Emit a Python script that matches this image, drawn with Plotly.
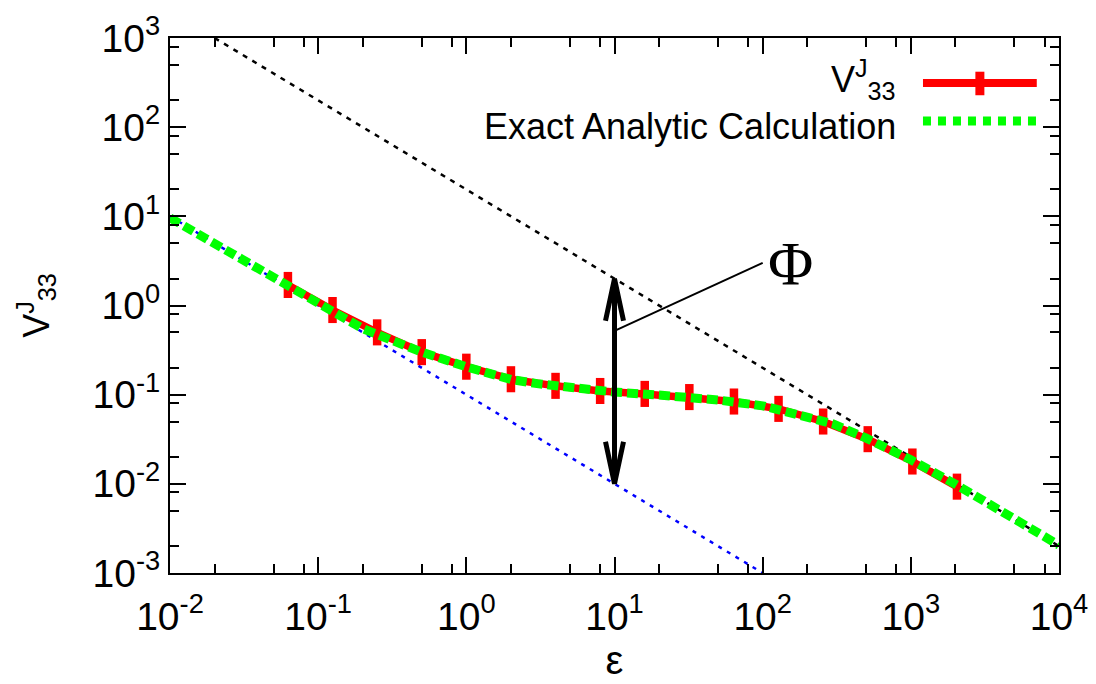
import plotly.graph_objects as go

# Simulation: V^J_33 sampled at powers of two in epsilon
eps_sim = [0.0625, 0.125, 0.25, 0.5, 1, 2, 4, 8, 16, 32, 64, 128, 256, 512, 1024, 2048]
v_sim = [1.70, 0.89, 0.50, 0.30, 0.206, 0.149, 0.1256, 0.110, 0.102, 0.094,
         0.0838, 0.0693, 0.050, 0.0317, 0.0178, 0.0093]

# Exact analytic curve
eps_exact = [0.01, 0.02, 0.03, 0.05, 0.1, 0.2, 0.3, 0.5, 1, 2, 3, 5, 10, 20, 30,
             50, 100, 200, 300, 500, 1000, 2000, 3000, 5000, 10000]
v_exact = [9.6, 4.9, 3.3, 2.1, 1.02, 0.55, 0.42, 0.30, 0.205, 0.148, 0.133, 0.12,
           0.107, 0.099, 0.095, 0.087, 0.075, 0.057, 0.047, 0.0325, 0.0186,
           0.0099, 0.0066, 0.0040, 0.00205]

# Asymptotic guide lines
eps_high = [0.02, 10000]
v_high = [1000, 0.002]
eps_low = [0.01, 100]
v_low = [10, 0.001]

# Double arrow marking the gap Phi
arrow_eps = 10
arrow_top = 2
arrow_bottom = 0.01
leader_start = (10, 0.52)
leader_end = (100, 3.0)

x_ticks = [1e-2, 1e-1, 1e0, 1e1, 1e2, 1e3, 1e4]
x_ticktext = ["10<sup>-2</sup>", "10<sup>-1</sup>", "10<sup>0</sup>", "10<sup>1</sup>",
              "10<sup>2</sup>", "10<sup>3</sup>", "10<sup>4</sup>"]
y_ticks = [1e-3, 1e-2, 1e-1, 1e0, 1e1, 1e2, 1e3]
y_ticktext = ["10<sup>-3</sup>", "10<sup>-2</sup>", "10<sup>-1</sup>", "10<sup>0</sup>",
              "10<sup>1</sup>", "10<sup>2</sup>", "10<sup>3</sup>"]

minor_x = [m * 10 ** d for d in range(-2, 4) for m in (2, 5, 8)]
minor_y = [m * 10 ** d for d in range(-3, 3) for m in (2, 5, 8)]

FONT = "Liberation Sans, Arial, sans-serif"

fig = go.Figure()

fig.add_trace(go.Scatter(
    x=eps_high, y=v_high, mode="lines",
    line=dict(color="black", width=2.5, dash="5px,6px"), showlegend=False))
fig.add_trace(go.Scatter(
    x=eps_low, y=v_low, mode="lines",
    line=dict(color="#0000ff", width=2.5, dash="4px,6px"), showlegend=False))
fig.add_trace(go.Scatter(
    x=eps_sim, y=v_sim, mode="lines",
    line=dict(color="#ff0000", width=7.5),
    error_y=dict(type="percent", symmetric=False, value=40, valueminus=28.6,
                 color="#ff0000", thickness=8.5, width=0),
    showlegend=False))
fig.add_trace(go.Scatter(
    x=eps_exact, y=v_exact, mode="lines",
    line=dict(color="#00ff00", width=9, dash="11px,5px"), showlegend=False))

shapes = [
    # arrow shaft and leader line
    dict(type="line", xref="x", yref="y", x0=arrow_eps, x1=arrow_eps,
         y0=arrow_bottom, y1=arrow_top, line=dict(color="black", width=5)),
    dict(type="path", xref="x", yref="y", xsizemode="pixel", ysizemode="pixel",
         xanchor=arrow_eps, yanchor=arrow_top,
         path="M -9,-42 L 0,0 L 9,-42", line=dict(color="black", width=5)),
    dict(type="path", xref="x", yref="y", xsizemode="pixel", ysizemode="pixel",
         xanchor=arrow_eps, yanchor=arrow_bottom,
         path="M -9,42 L 0,0 L 9,42", line=dict(color="black", width=5)),
    dict(type="line", xref="x", yref="y", x0=leader_start[0], y0=leader_start[1],
         x1=leader_end[0], y1=leader_end[1], line=dict(color="black", width=2)),
    # key samples
    dict(type="line", xref="paper", yref="paper", x0=0.847, x1=0.975, y0=0.916, y1=0.916,
         line=dict(color="#ff0000", width=8)),
    dict(type="line", xref="paper", yref="paper", x0=0.911, x1=0.911, y0=0.893, y1=0.937,
         line=dict(color="#ff0000", width=9)),
    dict(type="line", xref="paper", yref="paper", x0=0.847, x1=0.975, y0=0.845, y1=0.845,
         line=dict(color="#00ff00", width=9, dash="8px,7px")),
]

annotations = [
    dict(text="V<sup>J</sup><sub>33</sub>", xref="paper", yref="paper", x=0.819, y=0.922,
         xanchor="right", yanchor="middle", showarrow=False,
         font=dict(family=FONT, size=36, color="black")),
    dict(text="Exact Analytic Calculation", xref="paper", yref="paper", x=0.819, y=0.835,
         xanchor="right", yanchor="middle", showarrow=False,
         font=dict(family=FONT, size=36, color="black")),
    dict(text="Φ", xref="paper", yref="paper", x=0.6985, y=0.579,
         xanchor="center", yanchor="middle", showarrow=False,
         font=dict(family="Liberation Serif, Times New Roman, serif", size=62, color="black")),
]

axis_common = dict(
    type="log", showline=True, linecolor="black", linewidth=2, mirror="ticks",
    ticks="inside", ticklen=16, tickwidth=2, tickcolor="black",
    showgrid=False, zeroline=False, automargin=False,
    tickfont=dict(family=FONT, size=39, color="black"),
)

fig.update_layout(
    width=1096, height=684, autosize=False,
    margin=dict(l=170, r=37, t=38, b=111),
    plot_bgcolor="white", paper_bgcolor="white",
    showlegend=False,
    shapes=shapes, annotations=annotations,
    xaxis=dict(**axis_common, range=[-2, 4], tickvals=x_ticks, ticktext=x_ticktext,
               ticklabelstandoff=8,
               minor=dict(tickvals=minor_x, ticks="inside", ticklen=9, tickwidth=2,
                          tickcolor="black"),
               title=dict(text="ε", font=dict(family=FONT, size=40, color="black"),
                          standoff=4)),
    yaxis=dict(**axis_common, range=[-3, 3], tickvals=y_ticks, ticktext=y_ticktext,
               minor=dict(tickvals=minor_y, ticks="inside", ticklen=9, tickwidth=2,
                          tickcolor="black"),
               title=dict(text="V<sup>J</sup><sub>33</sub>",
                          font=dict(family=FONT, size=36, color="black"), standoff=32)),
)

fig.write_html("out.html")
